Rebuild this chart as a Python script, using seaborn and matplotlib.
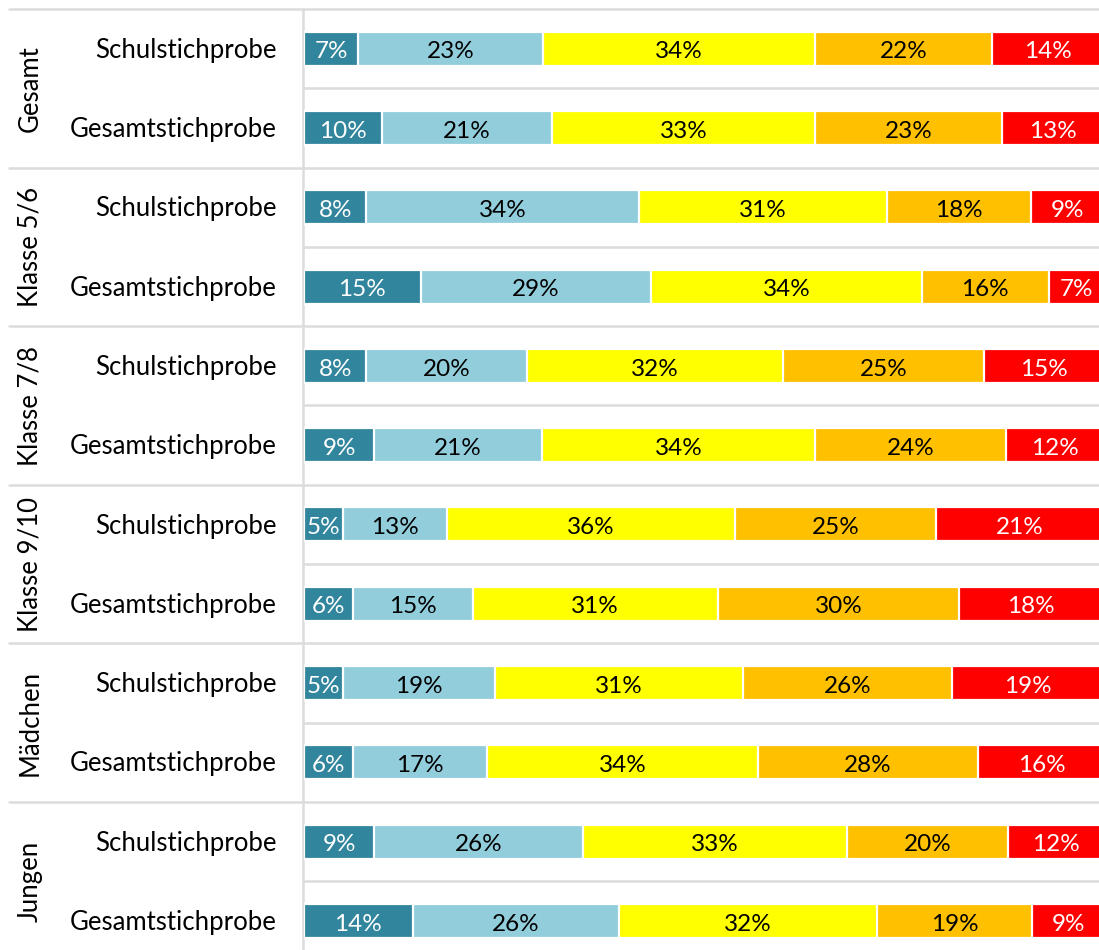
import matplotlib
matplotlib.use("Agg")
import matplotlib.pyplot as plt
import matplotlib.transforms as mtransforms
import numpy as np
import pandas as pd
import seaborn as sns

# ---------------- data ----------------
groups = ["Gesamt", "Klasse 5/6", "Klasse 7/8", "Klasse 9/10", "Mädchen", "Jungen"]
samples = ["Schulstichprobe", "Gesamtstichprobe"]
seg1 = [6.8, 9.8, 7.8, 14.6, 7.8, 8.8, 4.9, 6.1, 4.9, 6.1, 8.8, 13.6]
seg2 = [23.1, 21.2, 34.1, 28.8, 20.1, 20.9, 13.0, 15.0, 19.0, 16.8, 26.1, 25.8]
seg3 = [34.0, 32.9, 31.0, 33.8, 32.0, 34.2, 36.0, 30.6, 31.0, 33.8, 33.0, 32.2]
seg4 = [22.1, 23.4, 18.0, 15.9, 25.1, 23.8, 25.1, 30.2, 26.1, 27.6, 20.1, 19.4]
seg5 = [14.0, 12.7, 9.1, 7.0, 15.0, 12.4, 21.0, 18.0, 19.0, 15.8, 12.0, 9.1]

seg_colors = ["#31859C", "#92CDDC", "#FFFF00", "#FFC000", "#FF0000"]
text_colors = ["white", "black", "black", "black", "white"]

rows = [f"{g}|{s}" for g in groups for s in samples]
segs = [seg1, seg2, seg3, seg4, seg5]
df = pd.DataFrame({"row": rows})
cum = np.zeros(len(rows))
cums = []
for s in segs:
    cum = cum + np.array(s)
    cums.append(cum.copy())
for k in range(len(segs)):
    df[f"c{k}"] = cums[k]

# ---------------- style ----------------
sns.set_theme(style="white")
plt.rcParams["font.family"] = ["Lato", "DejaVu Sans"]

W, H = 1099, 950
fig = plt.figure(figsize=(W / 100, H / 100), dpi=100)
ax = fig.add_axes([304 / W, 0, 795 / W, 1])

# stacked bars: draw cumulative sums from the outermost inward
for k in reversed(range(len(segs))):
    sns.barplot(data=df, x=f"c{k}", y="row", order=rows, orient="h",
                color=seg_colors[k], saturation=1, width=0.43,
                edgecolor="white", linewidth=1.6, ax=ax, zorder=3)

px_per_row = 79.3
ax.set_xlim(0, 795 / 8.0)
ax.set_ylim(-0.5 + (H - 9) / px_per_row, -0.5 - 9 / px_per_row)
ax.axis("off")

# value labels
for k in range(len(segs)):
    for i in range(len(rows)):
        v = segs[k][i]
        left = cums[k][i] - v
        ax.text(left + v / 2, i + 0.04, f"{v:.0f}%", ha="center", va="center",
                fontsize=17.5, color=text_colors[k], zorder=5)

# separators
line_c = "#DCDCDC"
x_left = (9 - 304) / 795
for gi in range(len(groups)):
    ax.axhline(2 * gi - 0.5, xmin=x_left, xmax=1, color=line_c, lw=1.8,
               clip_on=False, zorder=1)
    ax.axhline(2 * gi + 0.5, xmin=0, xmax=1, color=line_c, lw=1.8,
               clip_on=False, zorder=1)
ax.axvline(-0.15, ymin=0, ymax=1 - 9 / H, color=line_c, lw=1.8,
           clip_on=False, zorder=1)

# row and group labels
trans = mtransforms.blended_transform_factory(fig.transFigure, ax.transData)
for gi, g in enumerate(groups):
    ax.text(30 / W, 2 * gi + 0.5, g, transform=trans, ha="center",
            va="center", rotation=90, fontsize=18.5, color="black")
for i, r in enumerate(rows):
    s = r.split("|")[1]
    ax.text(277 / W, i + 0.02, s, transform=trans, ha="right", va="center",
            fontsize=18.5, color="black")

fig.savefig("out.png", dpi=100)
